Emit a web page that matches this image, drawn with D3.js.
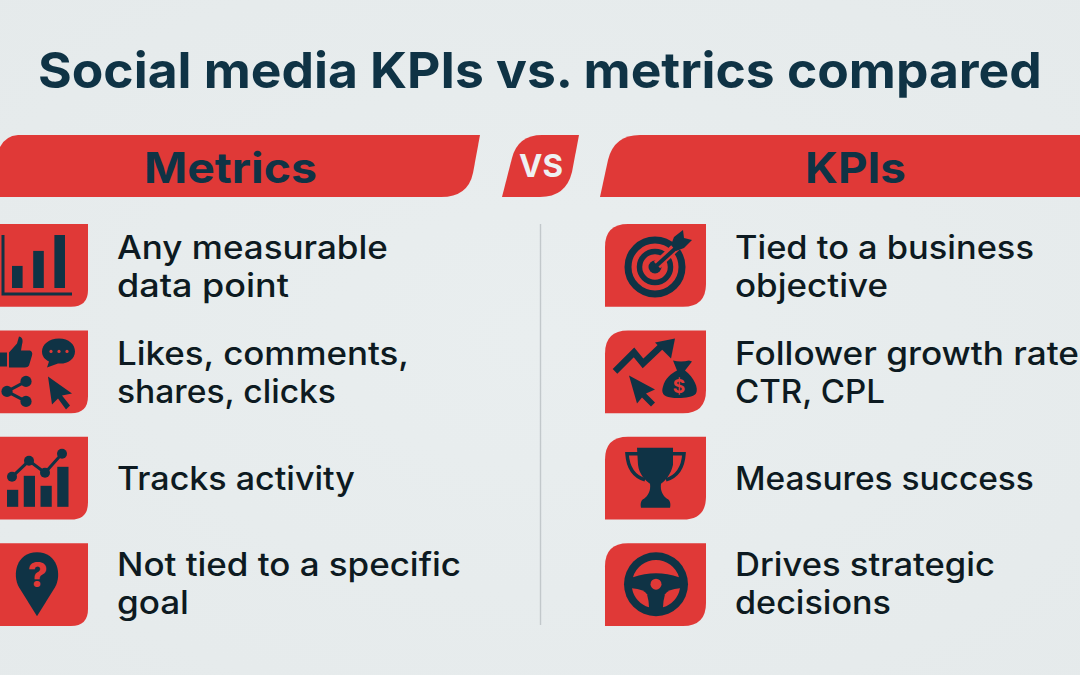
<!DOCTYPE html>
<html><head><meta charset="utf-8">
<style>html,body{margin:0;padding:0;background:#e6ebec;overflow:hidden}svg{display:block}</style>
<script src="https://cdn.jsdelivr.net/npm/d3@7"></script></head>
<body><svg id="c" width="1080" height="675"></svg>
<script>
const chartTitle = "Social media KPIs vs. metrics compared";
const leftHeader = "Metrics";
const rightHeader = "KPIs";
const middleLabel = "VS";
const metricsRows = [["Any measurable","data point"],["Likes, comments,","shares, clicks"],["Tracks activity"],["Not tied to a specific","goal"]];
const kpiRows = [["Tied to a business","objective"],["Follower growth rate","CTR, CPL"],["Measures success"],["Drives strategic","decisions"]];
const metricIcons = ["bars","social","trend","pin"];
const kpiIcons = ["target","growth","trophy","wheel"];

// layout only: rendered width of each line
const lineWidth = {"Any measurable":271,"data point":172,"Likes, comments,":292,"shares, clicks":219,"Tracks activity":238,"Not tied to a specific":344,"goal":72,
 "Tied to a business":299,"objective":153,"Follower growth rate":344,"CTR, CPL":150,"Measures success":299,"Drives strategic":260,"decisions":156};
const rowShift=[0,0,0,-2];

const RED="#e03937", DARK="#0f3345", INK="#0d1a21", FONT="Inter, 'Open Sans', sans-serif";
const svg=d3.select("#c");
const defs=svg.append("defs");
const bg=defs.append("radialGradient").attr("id","bg").attr("cx","50%").attr("cy","50%").attr("r","75%");
bg.append("stop").attr("offset","0%").attr("stop-color","#e9eeef");
bg.append("stop").attr("offset","100%").attr("stop-color","#e5eaeb");
svg.append("rect").attr("width",1080).attr("height",675).attr("fill","url(#bg)");

const y=d3.scaleBand().domain(d3.range(4)).range([224,626]).paddingInner(0.222);

function fitText(g,str,x,base,size,weight,fill,width){
  const t=g.append("text").attr("x",0).attr("y",0).attr("font-family",FONT).attr("font-size",size)
    .attr("font-weight",weight).attr("fill",fill).text(str);
  const k=width/t.node().getComputedTextLength();
  t.attr("transform",`translate(${x},${base}) scale(${k},1)`);
  return t;
}
fitText(svg,chartTitle,38,88,50,700,DARK,1004);
svg.append("path").attr("fill",RED).attr("d","M-2,197 L-2,152 Q3,136 18,135 L480,135 L473,173 Q468,197 441,197 Z");
svg.append("path").attr("fill",RED).attr("d","M600,197 L608,160 Q614,135 640,135 L1082,135 L1082,197 Z");
svg.append("path").attr("fill",RED).attr("d","M502,197 L512,158 Q518,135 542,135 L579,135 L572,172 Q566,197 540,197 Z");
fitText(svg,leftHeader,144,183,42,700,DARK,173);
fitText(svg,rightHeader,805,183,42,700,DARK,101);
fitText(svg,middleLabel,519,177,31,700,"#eef1f2",44);
svg.append("line").attr("x1",540.5).attr("x2",540.5).attr("y1",224).attr("y2",625).attr("stroke","#c2c8cb").attr("stroke-width",1.4);

const icons={
 bars(g){
  g.append("path").attr("d","M3,11V70H72").attr("fill","none").attr("stroke",DARK).attr("stroke-width",3);
  const b=d3.scaleBand().domain([0,1,2]).range([12,65]).paddingInner(0.5);
  const h=d3.scaleLinear().domain([0,3]).range([64,11]);
  g.selectAll(".b").data([1.25,2.1,3]).join("rect").attr("x",(d,i)=>b(i)).attr("width",b.bandwidth()).attr("y",d=>h(d)).attr("height",d=>64-h(d)).attr("fill",DARK);
 },
 social(g){
  g.append("path").attr("fill",DARK).attr("d","M-1,22H7V36H-1Z M9,22 L17,13 L19,6 Q24,7 22,14 L21,20 H30 Q33,21 32,25 L29,35 Q28,37 25,37 H9 Z");
  g.append("path").attr("fill",DARK).attr("d","M59,8 C69,8 75,14 75,21 C75,29 67,34 58,33 L47,37 L49,31 C45,29 42,26 42,21 C42,14 49,8 59,8Z");
  g.selectAll(".d").data([51,59,67]).join("circle").attr("cx",d=>d).attr("cy",21).attr("r",1.6).attr("fill",RED);
  g.append("path").attr("fill","none").attr("stroke",DARK).attr("stroke-width",3).attr("d","M26,51 L7,61 L26,71");
  g.selectAll(".n").data([[26,51],[7,61],[26,71]]).join("circle").attr("cx",d=>d[0]).attr("cy",d=>d[1]).attr("r",5.6).attr("fill",DARK);
  g.append("path").attr("fill",DARK).attr("d","M48,46 L72,63 L62,65 L70,75 L66,79 L58,68 L52,74 Z");
 },
 trend(g){
  const b=d3.scaleBand().domain([0,1,2,3]).range([7,68.5]).paddingInner(0.33);
  g.selectAll(".b").data([17,31,21,40]).join("rect").attr("x",(d,i)=>b(i)).attr("width",b.bandwidth()).attr("y",d=>70-d).attr("height",d=>d).attr("fill",DARK);
  const pts=[[12,40],[29,24],[45,36],[62,17]];
  g.append("path").attr("fill","none").attr("stroke",DARK).attr("stroke-width",3).attr("d",d3.line()(pts));
  g.selectAll(".n").data(pts).join("circle").attr("cx",d=>d[0]).attr("cy",d=>d[1]).attr("r",5).attr("fill",DARK);
 },
 pin(g){
  g.append("path").attr("fill",DARK).attr("d","M37,73 L19,44 C12,32 16,9 37,9 C58,9 62,32 55,44 Z");
  g.append("text").attr("x",37.5).attr("y",44).attr("text-anchor","middle").attr("font-family",FONT).attr("font-weight",800).attr("font-size",34).attr("fill",RED).text("?");
 },
 target(g){
  const c=[50,43];
  g.append("circle").attr("cx",c[0]).attr("cy",c[1]).attr("r",27).attr("fill","none").attr("stroke",DARK).attr("stroke-width",7);
  g.append("circle").attr("cx",c[0]).attr("cy",c[1]).attr("r",15.5).attr("fill","none").attr("stroke",DARK).attr("stroke-width",5.5);
  g.append("circle").attr("cx",c[0]).attr("cy",c[1]).attr("r",6.5).attr("fill",DARK);
  g.append("path").attr("stroke",RED).attr("stroke-width",9).attr("fill","none").attr("d","M52,41 L74,20");
  g.append("path").attr("stroke",DARK).attr("stroke-width",4).attr("fill","none").attr("d","M50,43 L72,23");
  g.append("path").attr("fill",DARK).attr("d","M66,21 L69,13 L78,6 L79,14 L87,16 L79,24 L71,27 Z");
 },
 growth(g){
  g.append("path").attr("fill","none").attr("stroke",DARK).attr("stroke-width",6.5).attr("d","M10,41 L29,22 L38,33 L56,16");
  g.append("path").attr("fill",DARK).attr("d","M50,12 L70,8 L66,28 Z");
  g.append("path").attr("fill",DARK).attr("d","M24,45 L50,59 L41,63 L50,72 L46,76 L37,67 L32,73 Z");
  g.append("path").attr("fill",DARK).attr("d","M68,30 Q76,32 84,30 L87,31 L80,40 C89,47 94,58 91,63 C87,68 72,68 66,67 C58,66 56,62 58,56 C60,48 66,43 72,40 Z");
  g.append("text").attr("x",74).attr("y",63).attr("text-anchor","middle").attr("font-family",FONT).attr("font-weight",700).attr("font-size",19).attr("fill",RED).text("$");
 },
 trophy(g){
  g.append("path").attr("fill","none").attr("stroke",DARK).attr("stroke-width",3.5).attr("d","M35,17 H22 C23,32 30,40 40,43 M65,17 H79 C78,32 71,40 61,43");
  g.append("path").attr("fill",DARK).attr("d","M32,11 H68 L68,28 C66,38 60,44 56,47 C55,54 58,59 62,62 C65,63 66,67 65,71 H36 C35,67 36,63 39,62 C43,59 46,54 45,47 C41,44 34,38 33,28 Z");
 },
 wheel(g){
  const cx=51,cy=41;
  g.append("circle").attr("cx",cx).attr("cy",cy).attr("r",32).attr("fill",DARK);
  g.append("path").attr("fill",RED).attr("d",`M${cx-23},${cy-7} A24,24 0 0 1 ${cx+23},${cy-7} Q${cx},${cy-15} ${cx-23},${cy-7} Z`);
  g.append("path").attr("fill",RED).attr("d",`M${cx-24},${cy+4} Q${cx-12},${cy+5} ${cx-9},${cy+10} Q${cx-7},${cy+17} ${cx-7},${cy+23} A24,24 0 0 1 ${cx-24},${cy+4} Z`);
  g.append("path").attr("fill",RED).attr("d",`M${cx+24},${cy+4} Q${cx+12},${cy+5} ${cx+9},${cy+10} Q${cx+7},${cy+17} ${cx+7},${cy+23} A24,24 0 0 0 ${cx+24},${cy+4} Z`);
  g.append("circle").attr("cx",cx).attr("cy",cy).attr("r",5.5).attr("fill",RED);
 }
};

function rowsDraw(rows,iconNames,px,tx,isRight){
  svg.selectAll(null).data(rows).join("g").each(function(lines,i){
    const g=d3.select(this), top=y(i), h=y.bandwidth();
    const w=isRight?101:88, r=isRight?23:17;
    const path=isRight
      ?`M${px},${top+h} V${top+r} Q${px},${top} ${px+r},${top} H${px+w} V${top+h-r} Q${px+w},${top+h} ${px+w-r},${top+h} Z`
      :`M-2,${top} H${w} V${top+h-r} Q${w},${top+h} ${w-r},${top+h} H-2 Z`;
    g.append("path").attr("d",path).attr("fill",RED);
    icons[iconNames[i]](g.append("g").attr("transform",`translate(${isRight?px:0},${top})`));
    const base=lines.length===2?[top+35,top+73]:[top+53];
    lines.forEach((s,j)=>fitText(g,s,tx,base[j]+rowShift[i],32,500,INK,lineWidth[s]));
  });
}
rowsDraw(metricsRows,metricIcons,0,117,false);
rowsDraw(kpiRows,kpiIcons,605,735,true);
</script></body></html>
